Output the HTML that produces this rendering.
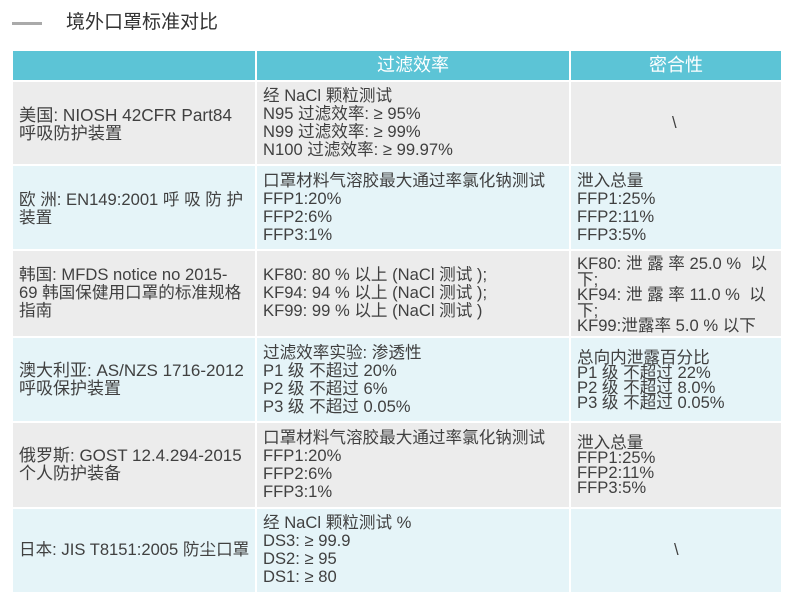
<!DOCTYPE html>
<html><head><meta charset="utf-8"><style>
body{margin:0;width:798px;height:594px;background:#fff;position:relative;overflow:hidden;font-family:"Liberation Sans","Noto Sans CJK SC",sans-serif;color:#404040;}
.c{position:absolute;box-sizing:border-box;}
.t{position:absolute;font-size:16.6px;line-height:18px;white-space:nowrap;}
.h{background:#5cc4d6;color:#fff;font-size:18px;text-align:center;line-height:28px;}
.g{background:#ececec}.b{background:#e5f4f8}
</style></head><body>
<div class="t" style="left:12px;top:14px;width:30px;height:6px;"><span style="display:inline-block;width:30px;height:3px;background:#555;opacity:.5;vertical-align:middle"></span></div>
<div class="t" style="left:66px;top:11px;font-size:19px;line-height:24px;color:#333">境外口罩标准对比</div>

<div class="c h" style="left:13px;top:51px;width:242px;height:29px"></div>
<div class="c h" style="left:257px;top:51px;width:312px;height:29px">过滤效率</div>
<div class="c h" style="left:571px;top:51px;width:210px;height:29px">密合性</div>

<div class="c g" style="left:13px;top:82px;width:242px;height:82px"></div>
<div class="c g" style="left:257px;top:82px;width:312px;height:82px"></div>
<div class="c g" style="left:571px;top:82px;width:210px;height:82px"></div>
<div class="c b" style="left:13px;top:166px;width:242px;height:83px"></div>
<div class="c b" style="left:257px;top:166px;width:312px;height:83px"></div>
<div class="c b" style="left:571px;top:166px;width:210px;height:83px"></div>
<div class="c g" style="left:13px;top:251px;width:242px;height:85px"></div>
<div class="c g" style="left:257px;top:251px;width:312px;height:85px"></div>
<div class="c g" style="left:571px;top:251px;width:210px;height:85px"></div>
<div class="c b" style="left:13px;top:338px;width:242px;height:83px"></div>
<div class="c b" style="left:257px;top:338px;width:312px;height:83px"></div>
<div class="c b" style="left:571px;top:338px;width:210px;height:83px"></div>
<div class="c g" style="left:13px;top:423px;width:242px;height:84px"></div>
<div class="c g" style="left:257px;top:423px;width:312px;height:84px"></div>
<div class="c g" style="left:571px;top:423px;width:210px;height:84px"></div>
<div class="c b" style="left:13px;top:509px;width:242px;height:83px"></div>
<div class="c b" style="left:257px;top:509px;width:312px;height:83px"></div>
<div class="c b" style="left:571px;top:509px;width:210px;height:83px"></div>

<div class="t" style="left:19px;top:106px;font-size:17.2px">美国: NIOSH 42CFR Part84<br>呼吸防护装置</div>
<div class="t" style="left:263px;top:87px">经 NaCl 颗粒测试<br>N95 过滤效率: ≥ 95%<br>N99 过滤效率: ≥ 99%<br>N100 过滤效率: ≥ 99.97%</div>
<div class="t" style="left:672px;top:114px">\</div>

<div class="t" style="left:19px;top:191px">欧 洲: EN149:2001 呼 吸 防 护<br>装置</div>
<div class="t" style="left:263px;top:172px">口罩材料气溶胶最大通过率氯化钠测试<br>FFP1:20%<br>FFP2:6%<br>FFP3:1%</div>
<div class="t" style="left:577px;top:172px">泄入总量<br>FFP1:25%<br>FFP2:11%<br>FFP3:5%</div>

<div class="t" style="left:19px;top:266px">韩国: MFDS notice no 2015-<br>69 韩国保健用口罩的标准规格<br>指南</div>
<div class="t" style="left:263px;top:266px">KF80: 80 % 以上 (NaCl 测试 );<br>KF94: 94 % 以上 (NaCl 测试 );<br>KF99: 99 % 以上 (NaCl 测试 )</div>
<div class="t" style="left:577px;top:256px;line-height:15.5px">KF80: 泄 露 率 25.0 %&nbsp; 以<br>下;<br>KF94: 泄 露 率 11.0 %&nbsp; 以<br>下;<br>KF99:泄露率 5.0 % 以下</div>

<div class="t" style="left:19px;top:362px;font-size:17px">澳大利亚: AS/NZS 1716-2012<br>呼吸保护装置</div>
<div class="t" style="left:263px;top:344px">过滤效率实验: 渗透性<br>P1 级 不超过 20%<br>P2 级 不超过 6%<br>P3 级 不超过 0.05%</div>
<div class="t" style="left:577px;top:350px;line-height:15px">总向内泄露百分比<br>P1 级 不超过 22%<br>P2 级 不超过 8.0%<br>P3 级 不超过 0.05%</div>

<div class="t" style="left:19px;top:447px;font-size:17px">俄罗斯: GOST 12.4.294-2015<br>个人防护装备</div>
<div class="t" style="left:263px;top:429px">口罩材料气溶胶最大通过率氯化钠测试<br>FFP1:20%<br>FFP2:6%<br>FFP3:1%</div>
<div class="t" style="left:577px;top:435px;line-height:15px">泄入总量<br>FFP1:25%<br>FFP2:11%<br>FFP3:5%</div>

<div class="t" style="left:19px;top:541px">日本: JIS T8151:2005 防尘口罩</div>
<div class="t" style="left:263px;top:514px">经 NaCl 颗粒测试 %<br>DS3: ≥ 99.9<br>DS2: ≥ 95<br>DS1: ≥ 80</div>
<div class="t" style="left:674px;top:541px">\</div>
</body></html>
